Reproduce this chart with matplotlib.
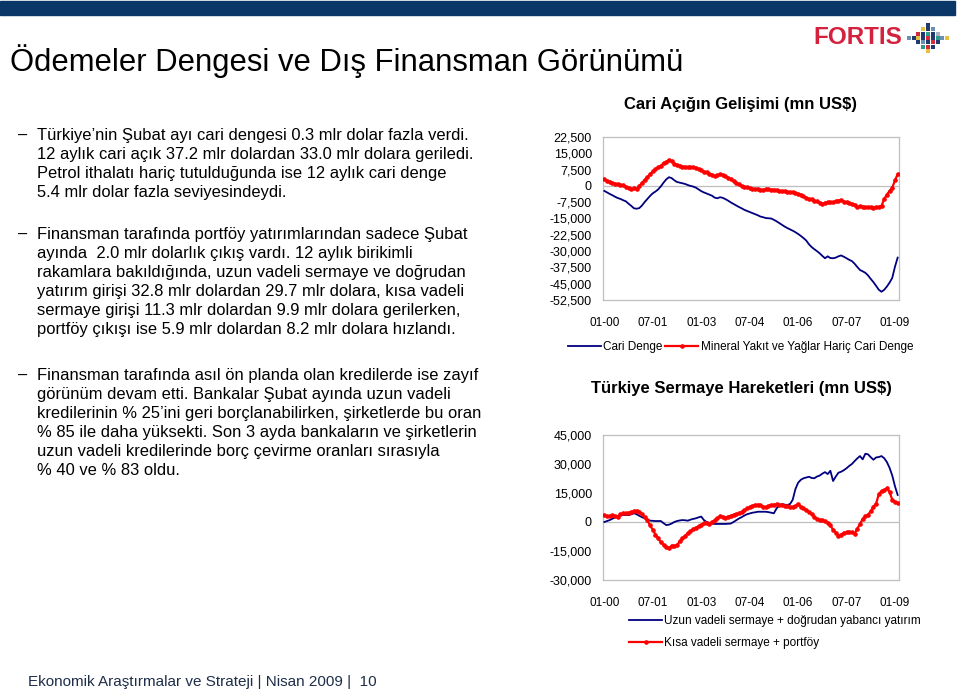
import numpy as np
import matplotlib
matplotlib.use('Agg')
import matplotlib.pyplot as plt
from matplotlib.patches import Rectangle

plt.rcParams['font.family'] = ['Liberation Sans', 'DejaVu Sans']

W, H = 960, 693

# Aylık veriler, 01-2000 ... 02-2009 (12 aylık birikimli, mn US$)
cari_denge = [
    -2300, -3000, -3700, -4300, -5000, -5600, -6000, -6600, -7100, -8200,
    -9200, -10300, -10500, -10200, -9000, -7400, -6000, -4600, -3400, -2600,
    -1600, -200, 1500, 3000, 4000, 3600, 2600, 1800, 1500, 1200,
    900, 400, 0, -300, -800, -1600, -2400, -3000, -3500, -4000,
    -4500, -5400, -5700, -5200, -5500, -6100, -6800, -7600, -8300, -9000,
    -9700, -10300, -11000, -11500, -12000, -12500, -13000, -13500, -14100, -14400,
    -14800, -14900, -15000, -15600, -16300, -17100, -17900, -18700, -19400, -20000,
    -20600, -21300, -22100, -23000, -24000, -25100, -26800, -28100, -29100, -30000,
    -31000, -32200, -33300, -32400, -33200, -33300, -33000, -32400, -32000, -32600,
    -33300, -34000, -34600, -35800, -37300, -38700, -39300, -40000, -41200, -42800,
    -44300, -46000, -47800, -48700, -47800, -46300, -44500, -42300, -37200, -33000,
]
petrol_haric = [
    3100, 2400, 1900, 1300, 1000, 800, 500, 200, -300, -800,
    -1400, -1100, -1500, 0, 1400, 2800, 4000, 5300, 6700, 7600,
    8500, 9200, 10500, 11000, 12000, 11300, 10300, 9700, 9300, 8900,
    8800, 8600, 8700, 8500, 8400, 7700, 7200, 6600, 6200, 5700,
    5200, 4500, 5000, 5300, 5000, 4500, 3800, 3000, 2200, 1400,
    800, 0, -400, -600, -900, -1200, -1500, -1300, -1800, -1800,
    -1500, -1500, -1800, -1700, -2000, -2300, -2400, -2500, -2600, -2900,
    -3000, -3100, -3600, -4000, -4700, -5400, -6100, -6200, -6800, -7000,
    -7700, -8300, -7800, -7400, -7600, -7500, -7100, -6800, -6500, -7200,
    -7500, -7800, -8300, -8600, -9800, -9400, -9500, -9900, -9700, -9800,
    -10000, -9800, -9600, -9200, -6000, -4000, -2300, -800, 2500, 5400,
]
uzun_vadeli = [
    0, 500, 1000, 1700, 2400, 3000, 3400, 3600, 3600, 3600,
    4000, 4500, 4000, 3200, 2500, 1900, 1200, 700, 600, 500,
    500, 500, -600, -1600, -1400, -800, 0, 500, 800, 1000,
    900, 700, 1200, 1600, 1900, 2400, 2800, 1000, 0, -600,
    -800, -1000, -1000, -1000, -1000, -1000, -900, -800, 0, 900,
    1800, 2500, 3300, 4000, 4400, 4800, 5000, 5300, 5300, 5300,
    5300, 5100, 4800, 4500, 7000, 8500, 9300, 9000, 8800, 9300,
    11500, 17000, 20300, 21800, 22600, 23000, 23400, 22800, 22600, 23500,
    24000, 25000, 25800, 24800, 26500, 21200, 23500, 25500, 26000, 26800,
    27800, 29000, 30000, 31500, 32900, 34100, 32400, 35300, 35000, 33500,
    32200, 33400, 33600, 34100, 33000, 31000, 28000, 24000, 18500, 14000,
]
kisa_vadeli = [
    3400, 3000, 3100, 3600, 3000, 2800, 3900, 4500, 4600, 4800,
    5100, 5500, 5900, 5400, 4000, 2400, 800, -1800, -4000, -6500,
    -8500, -10500, -11800, -12800, -13600, -12200, -12400, -12000, -10000, -8500,
    -7200, -5800, -4800, -3600, -2900, -2300, -1500, -600, -400, -1000,
    0, 800, 1900, 3000, 2700, 2300, 2800, 3200, 3800, 4100,
    4500, 5200, 6100, 7000, 7800, 8400, 8800, 8900, 8700, 8000,
    7600, 8300, 8800, 9000, 9100, 8900, 8700, 8500, 8200, 7800,
    7800, 8300, 9400, 7700, 7100, 6100, 5200, 4100, 2700, 1400,
    1100, 900, 400, -300, -1800, -4000, -5500, -7000, -6500, -5500,
    -5300, -5000, -5400, -6000, -3500, -1000, 1500, 3000, 3800, 5500,
    8000, 9500, 14500, 16000, 16500, 17400, 15500, 11500, 10500, 9700,
]
x_labels = ['01-00', '07-01', '01-03', '07-04', '01-06', '07-07', '01-09']
y1_ticks = list(range(-52500, 22501, 7500))
y2_ticks = list(range(-30000, 45001, 15000))

NAVY = '#000080'
RED = '#ff0000'
GRID = '#bfbfbf'
BODY_FS = 11.9

fig = plt.figure(figsize=(W / 100, H / 100), dpi=100)
fig.patch.set_facecolor('white')


def fx(px):
    return px / W


def fy(py):
    return 1 - py / H


# üst bant
fig.patches.append(Rectangle((0, fy(15)), fx(955), 14 / H, transform=fig.transFigure,
                             color='#0b3768', zorder=0))

# logo
fig.text(fx(858), fy(38), 'FORTIS', color='#d4213d', fontsize=17.5, fontweight='bold',
         ha='center', va='center')
logo_cells = [(0, 3, '#1f3a6e'), (-1, 2, '#e8c040'), (0, 2, '#1f3a6e'), (1, 2, '#6a8fb0'),
              (-2, 1, '#d42a3c'), (-1, 1, '#1f3a6e'), (0, 1, '#2e9a8a'), (1, 1, '#1f3a6e'),
              (2, 1, '#aab2c0'), (-4, 0, '#6a8fb0'), (-3, 0, '#1f3a6e'), (-2, 0, '#e8c040'),
              (-1, 0, '#1f3a6e'), (0, 0, '#d42a3c'), (1, 0, '#1f3a6e'), (2, 0, '#2e9a8a'),
              (3, 0, '#6a8fb0'), (4, 0, '#e8c040'), (-2, -1, '#1f3a6e'), (-1, -1, '#6a8fb0'),
              (0, -1, '#1f3a6e'), (1, -1, '#d42a3c'), (2, -1, '#1f3a6e'), (-1, -2, '#2e9a8a'),
              (0, -2, '#d42a3c'), (1, -2, '#1f3a6e'), (0, -3, '#e8c040')]
lax = fig.add_axes([fx(906), fy(54), fx(44), 32 / H])
lax.scatter([c[0] for c in logo_cells], [c[1] for c in logo_cells],
            c=[c[2] for c in logo_cells], marker='s', s=8, linewidths=0)
lax.set_xlim(-4.6, 4.6)
lax.set_ylim(-3.6, 3.6)
lax.axis('off')

# başlık
fig.text(fx(10), fy(61), 'Ödemeler Dengesi ve Dış Finansman Görünümü', fontsize=22.3,
         ha='left', va='center')

# metin
bullets = [
    (140, ['Türkiye’nin Şubat ayı cari dengesi 0.3 mlr dolar fazla verdi.',
           '12 aylık cari açık 37.2 mlr dolardan 33.0 mlr dolara geriledi.',
           'Petrol ithalatı hariç tutulduğunda ise 12 aylık cari denge',
           '5.4 mlr dolar fazla seviyesindeydi.']),
    (239, ['Finansman tarafında portföy yatırımlarından sadece Şubat',
           'ayında  2.0 mlr dolarlık çıkış vardı. 12 aylık birikimli',
           'rakamlara bakıldığında, uzun vadeli sermaye ve doğrudan',
           'yatırım girişi 32.8 mlr dolardan 29.7 mlr dolara, kısa vadeli',
           'sermaye girişi 11.3 mlr dolardan 9.9 mlr dolara gerilerken,',
           'portföy çıkışı ise 5.9 mlr dolardan 8.2 mlr dolara hızlandı.']),
    (380, ['Finansman tarafında asıl ön planda olan kredilerde ise zayıf',
           'görünüm devam etti. Bankalar Şubat ayında uzun vadeli',
           'kredilerinin % 25’ini geri borçlanabilirken, şirketlerde bu oran',
           '% 85 ile daha yüksekti. Son 3 ayda bankaların ve şirketlerin',
           'uzun vadeli kredilerinde borç çevirme oranları sırasıyla',
           '% 40 ve % 83 oldu.']),
]
for y0, lines in bullets:
    fig.text(fx(18), fy(y0), '–', fontsize=BODY_FS, ha='left', va='baseline')
    for k, line in enumerate(lines):
        fig.text(fx(37), fy(y0 + 19 * k), line, fontsize=BODY_FS, ha='left', va='baseline')

# alt bilgi
fig.text(fx(28), fy(682), 'Ekonomik Araştırmalar ve Strateji | Nisan 2009 |  10',
         fontsize=11, color='#1e2d4a', ha='left', va='center')


def setup_axes(ax, yticks):
    ax.set_xlim(-0.5, len(cari_denge) - 0.5)
    ax.set_ylim(yticks[0], yticks[-1])
    ax.set_yticks(yticks)
    ax.set_yticklabels([f'{v:,}' for v in yticks])
    ax.set_xticks(range(0, len(cari_denge), 18))
    ax.set_xticklabels(x_labels)
    ax.tick_params(axis='both', length=0)
    ax.tick_params(axis='x', pad=12, labelsize=8.5)
    ax.tick_params(axis='y', pad=8, labelsize=9)
    for s in ax.spines.values():
        s.set_color(GRID)
        s.set_linewidth(0.9)
    ax.axhline(0, color=GRID, lw=0.9, zorder=1)


# grafik 1
ax1 = fig.add_axes([fx(603), fy(300), fx(296), 163 / H])
x = np.arange(len(cari_denge))
ax1.plot(x, cari_denge, color=NAVY, lw=1.3, label='Cari Denge', zorder=3)
ax1.plot(x, petrol_haric, color=RED, lw=1.6, marker='o', ms=2.3,
         label='Mineral Yakıt ve Yağlar Hariç Cari Denge', zorder=3)
setup_axes(ax1, y1_ticks)
fig.text(fx(740), fy(104), 'Cari Açığın Gelişimi (mn US$)', fontsize=12,
         fontweight='bold', ha='center', va='center')
ax1.legend(loc='center left', bbox_to_anchor=(fx(568), fy(347)), bbox_transform=fig.transFigure,
           ncol=2, frameon=False, fontsize=8.5, handlelength=2.8, handletextpad=0.2,
           columnspacing=0.2, borderpad=0, borderaxespad=0)

# grafik 2
ax2 = fig.add_axes([fx(603), fy(580), fx(296), 145 / H])
ax2.plot(x, uzun_vadeli, color=NAVY, lw=1.3,
         label='Uzun vadeli sermaye + doğrudan yabancı yatırım', zorder=3)
ax2.plot(x, kisa_vadeli, color=RED, lw=1.6, marker='o', ms=2.3,
         label='Kısa vadeli sermaye + portföy', zorder=3)
setup_axes(ax2, y2_ticks)
fig.text(fx(741), fy(388), 'Türkiye Sermaye Hareketleri (mn US$)', fontsize=12,
         fontweight='bold', ha='center', va='center')
ax2.legend(loc='center left', bbox_to_anchor=(fx(629), fy(632)), bbox_transform=fig.transFigure,
           ncol=1, frameon=False, fontsize=8.5, handlelength=2.8, handletextpad=0.2,
           labelspacing=0.8, borderpad=0, borderaxespad=0)

fig.savefig('out.png', dpi=100)
